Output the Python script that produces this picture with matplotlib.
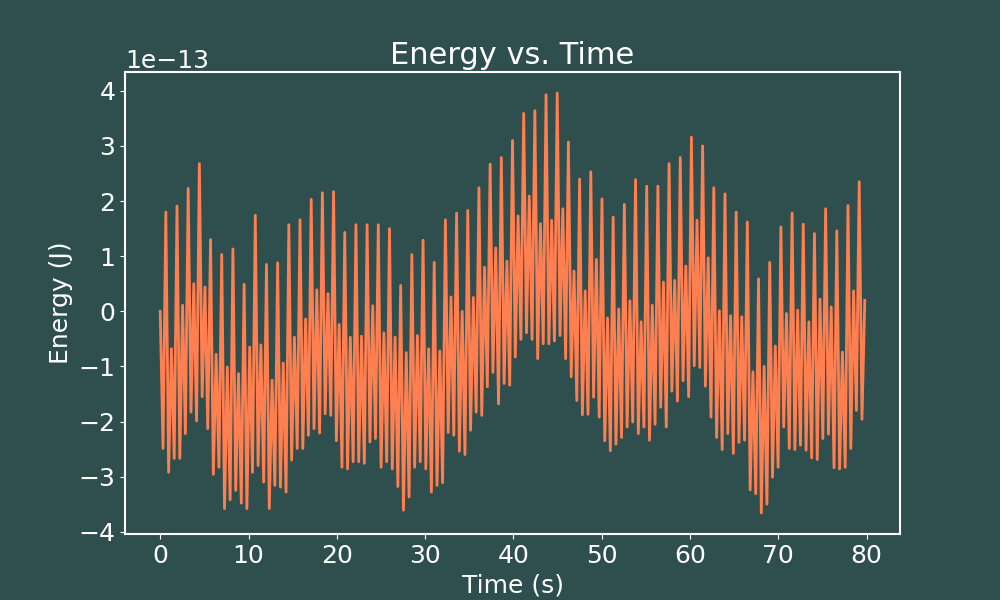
import numpy as np
import matplotlib
matplotlib.use("Agg")
import matplotlib.pyplot as plt

# Energy extrema (units of 1e-13 J), in time order:
# start, first trough, then per cycle: main peak, trough, secondary peak, trough
energy_e13 = [
    0.00, -2.49,
    1.80, -2.92, -0.68, -2.67,
    1.91, -2.67, 0.11, -2.22,
    2.23, -1.83, 0.50, -1.99,
    2.68, -1.55, 0.44, -2.13,
    1.30, -2.96, -0.78, -2.83,
    1.03, -3.58, -1.01, -3.42,
    1.13, -3.25, -1.13, -3.48,
    0.49, -3.58, -0.65, -2.92,
    1.74, -2.80, -0.61, -3.10,
    0.85, -3.58, -1.25, -3.16,
    0.88, -3.19, -0.94, -3.28,
    1.57, -2.70, -0.47, -2.49,
    1.66, -2.49, -0.14, -2.25,
    2.03, -2.13, 0.39, -2.21,
    2.15, -1.86, 0.32, -1.89,
    2.17, -2.35, -0.24, -2.83,
    1.43, -2.86, -0.47, -2.73,
    1.57, -2.73, -0.45, -2.76,
    1.57, -2.37, 0.10, -2.31,
    1.57, -2.83, -0.39, -2.73,
    1.50, -2.86, -0.47, -3.18,
    0.47, -3.61, -0.75, -3.37,
    1.03, -2.83, -0.44, -2.73,
    1.29, -2.86, -0.68, -3.28,
    0.89, -3.16, -0.72, -3.11,
    1.66, -2.20, 0.26, -2.25,
    1.78, -2.54, 0.00, -2.60,
    1.83, -2.16, 0.25, -1.83,
    2.24, -1.89, 0.80, -1.37,
    2.67, -1.11, 1.15, -1.68,
    2.79, -1.31, 0.91, -1.34,
    3.10, -0.83, 1.73, -0.51,
    3.59, -0.39, 2.09, -0.51,
    3.64, -0.86, 1.59, -0.59,
    3.93, -0.59, 1.65, -0.54,
    3.96, -0.44, 1.86, -0.86,
    3.07, -1.19, 0.73, -1.62,
    2.40, -1.88, 0.37, -1.87,
    2.53, -1.56, 0.94, -1.92,
    2.04, -2.35, -0.12, -2.53,
    1.71, -2.41, 0.04, -2.29,
    1.94, -2.10, 0.19, -2.01,
    2.39, -2.22, -0.19, -2.10,
    2.27, -2.34, 0.11, -2.05,
    2.27, -1.74, 0.53, -2.10,
    2.68, -1.45, 0.56, -1.63,
    2.79, -1.26, 0.82, -1.55,
    3.16, -0.99, 1.65, -1.02,
    3.00, -1.36, 0.97, -1.92,
    2.24, -2.29, 0.01, -2.51,
    2.13, -2.22, -0.08, -2.58,
    1.80, -2.38, -0.10, -2.34,
    1.62, -3.24, -1.10, -3.31,
    0.59, -3.66, -1.00, -3.50,
    0.89, -3.01, -0.63, -2.83,
    1.53, -2.10, -0.04, -2.49,
    1.78, -2.51, 0.02, -2.43,
    1.58, -2.52, -0.19, -2.66,
    1.41, -2.69, 0.22, -2.31,
    1.86, -2.23, 0.08, -2.84,
    1.46, -2.86, -0.74, -2.83,
    1.92, -2.49, 0.37, -1.80,
    2.35, -1.96, 0.20,
]
t_start, t_end = 0.0, 79.8

title = "Energy vs. Time"
xlabel = "Time (s)"
ylabel = "Energy (J)"

bg = "#2F4F4F"
line_color = "#FF7F50"

energy = np.array(energy_e13) * 1e-13
time = np.linspace(t_start, t_end, len(energy))

fig = plt.figure(figsize=(10, 6), dpi=100, facecolor=bg)
ax = fig.add_subplot(111)
ax.set_facecolor(bg)
ax.plot(time, energy, color=line_color, linewidth=2.0)

ax.set_title(title, color="white", fontsize=22)
ax.set_xlabel(xlabel, color="white", fontsize=18)
ax.set_ylabel(ylabel, color="white", fontsize=18)
ax.tick_params(colors="white", labelsize=18)
ax.yaxis.get_offset_text().set_color("white")
ax.yaxis.get_offset_text().set_fontsize(18)
for s in ax.spines.values():
    s.set_color("white")
    s.set_linewidth(1.5)

fig.savefig("out.png", dpi=100, facecolor=bg)
